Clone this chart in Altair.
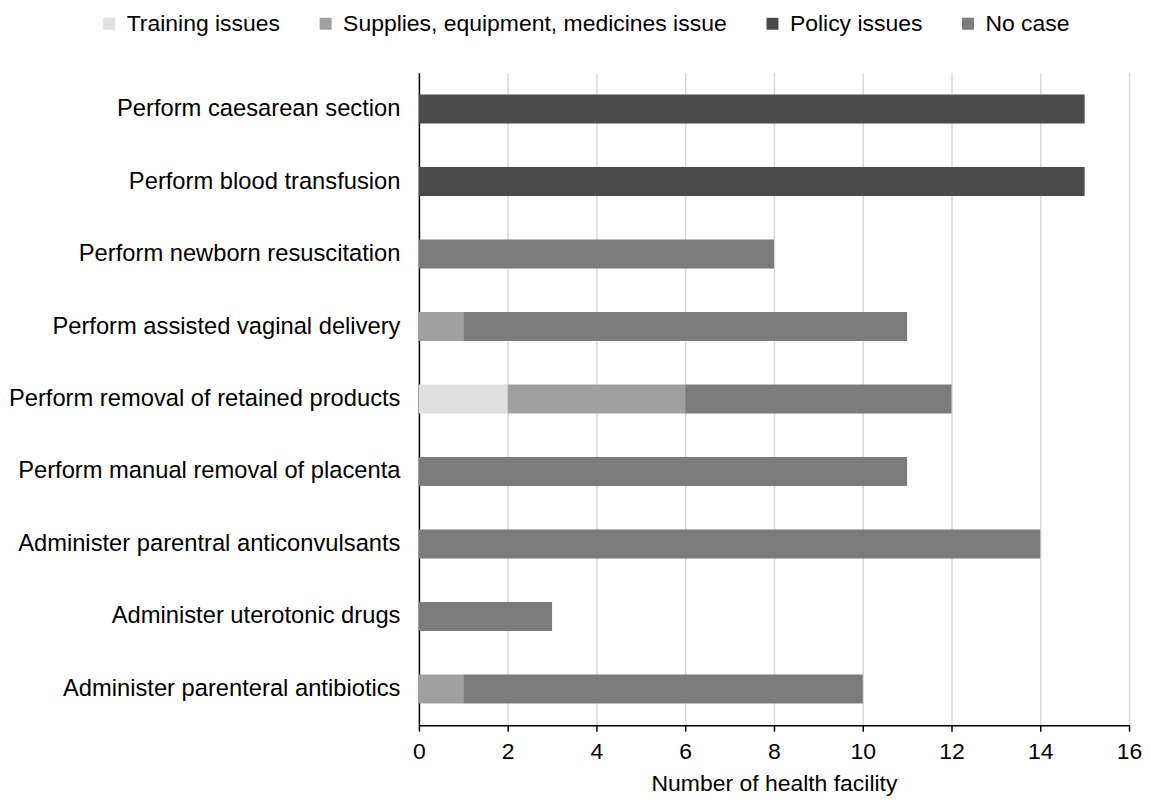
import altair as alt
import pandas as pd

tasks = [
    "Perform caesarean section",
    "Perform blood transfusion",
    "Perform newborn resuscitation",
    "Perform assisted vaginal delivery",
    "Perform removal of retained products",
    "Perform manual removal of placenta",
    "Administer parentral anticonvulsants",
    "Administer uterotonic drugs",
    "Administer parenteral antibiotics",
]
categories = ["Training issues", "Supplies, equipment, medicines issue", "Policy issues", "No case"]
colors = ["#e0e0e0", "#a0a0a0", "#4a4a4a", "#7b7b7b"]

training = [0, 0, 0, 0, 2, 0, 0, 0, 0]
supplies = [0, 0, 0, 1, 4, 0, 0, 0, 1]
policy = [15, 15, 0, 0, 0, 0, 0, 0, 0]
no_case = [0, 0, 8, 10, 6, 11, 14, 3, 9]

rows = []
for i, t in enumerate(tasks):
    for k, (cat, vals) in enumerate(zip(categories, [training, supplies, policy, no_case])):
        if vals[i] > 0:
            rows.append({"task": t, "category": cat, "value": vals[i], "order": k})
df = pd.DataFrame(rows)

FONT = "Liberation Sans"

chart = alt.Chart(df).mark_bar().encode(
    y=alt.Y("task:N", sort=tasks, title=None,
            scale=alt.Scale(paddingInner=0.6, paddingOuter=0.3),
            axis=alt.Axis(domainColor="black", domainWidth=1.5, ticks=False,
                          labelFontSize=23.8, labelPadding=19, labelColor="black",
                          labelFont=FONT, labelLimit=700, grid=False)),
    x=alt.X("value:Q", stack="zero", title="Number of health facility",
            scale=alt.Scale(domain=[0, 16], nice=False),
            axis=alt.Axis(values=list(range(0, 17, 2)), domainColor="black", domainWidth=1.5,
                          tickColor="black", tickWidth=1.5, format="d", labelFlush=False,
                          tickSize=6, labelFontSize=23, labelColor="black", labelFont=FONT,
                          labelPadding=9, titleFontSize=23, titleFont=FONT, titleFontWeight="normal",
                          titleColor="black", titlePadding=10, gridColor="#d9d9d9", gridWidth=1.5)),
    color=alt.Color("category:N", sort=categories,
                    scale=alt.Scale(domain=categories, range=colors),
                    legend=alt.Legend(title=None, orient="none", direction="horizontal",
                                      legendX=-322, legendY=-61,
                                      symbolType="square", symbolSize=144, symbolStrokeWidth=0,
                                      labelFontSize=23, labelFont=FONT, labelColor="black",
                                      labelLimit=700, columnPadding=34, labelOffset=6)),
    order=alt.Order("order:Q"),
).properties(
    width=712, height=654,
    padding={"left": 0, "right": 0, "top": 3, "bottom": 0},
).configure_view(stroke=None)

chart.save("out.html", embed_options={"renderer": "svg", "actions": False})
